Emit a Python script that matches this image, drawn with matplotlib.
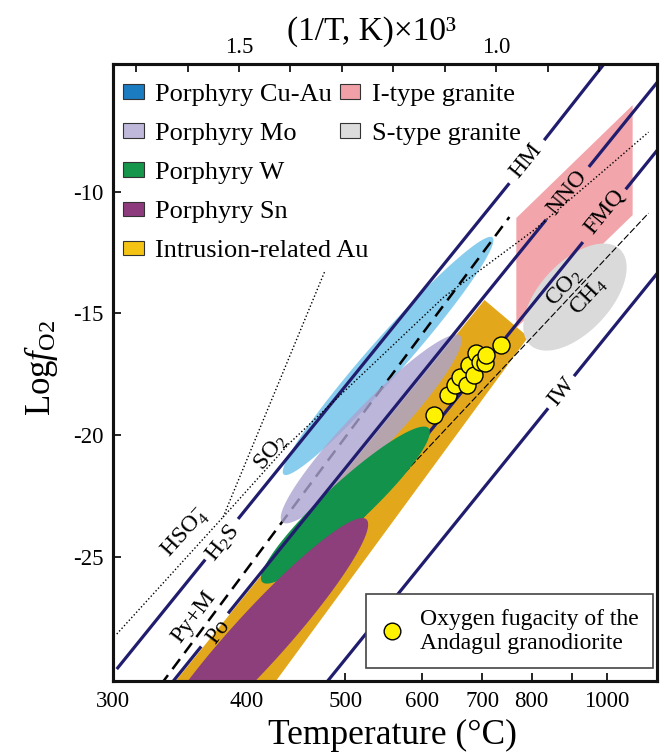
import numpy as np
import matplotlib
matplotlib.use("Agg")
import matplotlib.pyplot as plt
from matplotlib.patches import Patch
from matplotlib.lines import Line2D

plt.rcParams['font.family'] = ['Liberation Serif', 'DejaVu Serif']
plt.rcParams['mathtext.fontset'] = 'custom'
plt.rcParams['mathtext.rm'] = 'Liberation Serif'
plt.rcParams['mathtext.it'] = 'Liberation Serif:italic'
plt.rcParams['mathtext.bf'] = 'Liberation Serif:bold'
plt.rcParams['axes.unicode_minus'] = False

# ---------------- data (Temperature in °C, log fO2) ----------------
# buffer lines, drawn as segments (gaps where labels sit)
HM_segments = [((302.4, -29.62), (365.6, -25.12)),
               ((392.7, -23.45), (752.6, -9.65)),
               ((829.0, -7.88), (1000.0, -4.60))]
NNO_segments = [((337.7, -30.36), (362.4, -28.69)),
                ((384.2, -27.33), (833.7, -11.15)),
                ((945.6, -8.98), (1194.3, -5.34))]
FMQ_segments = [((380.1, -30.37), (928.6, -12.07)),
                ((1062.0, -9.90), (1194.3, -8.13))]
IW_segments = [((474.4, -30.37), (838.5, -18.90)),
               ((904.2, -17.58), (1194.3, -13.19))]
# pyrite+magnetite / pyrrhotite boundary (dashed)
PyM_Po_T = [332.0, 752.6]
PyM_Po_f = [-30.28, -11.04]
# CO2 / CH4 boundary (thin dashed)
CO2_CH4_T = [520.1, 1146.0]
CO2_CH4_f = [-23.41, -10.88]
# sulfur species boundaries (dotted)
HSO4_H2S_T = [302.4, 380.1]
HSO4_H2S_f = [-28.18, -23.37]
HSO4_SO2_T = [380.1, 476.5]
HSO4_SO2_f = [-23.37, -13.30]
H2S_SO2_T = [380.1, 440.3, 634.0, 806.1, 975.0, 1146.0]
H2S_SO2_f = [-23.37, -20.33, -14.33, -11.57, -9.31, -7.55]

# fields
Au_T = [334.1, 704.2, 792.7, 416.6]
Au_f = [-30.73, -14.45, -15.97, -30.73]
Itype_T = [767.0, 1086.5, 1086.5, 767.0]
Itype_f = [-11.08, -6.44, -10.96, -15.60]
# ellipses: centre, end of long axis, end of conjugate axis
CuAu_ell = [(553.0, -16.75), (721.1, -11.99), (553.0, -17.90)]
Mo_ell = [(531.2, -19.75), (663.6, -16.10), (531.2, -21.07)]
W_ell = [(500.0, -22.88), (612.3, -19.88), (500.0, -24.07)]
Sn_ell = [(409.3, -28.43), (520.1, -23.41), (443.3, -28.43)]
Stype_ell = [(906.8, -14.33), (1041.6, -12.36), (981.1, -15.31)]

# Andagul granodiorite oxygen fugacity
sample_T = [618.4, 640.4, 651.8, 660.2, 672.1, 675.5, 684.3, 687.9, 695.1, 704.2, 707.9, 736.6]
sample_f = [-19.18, -18.36, -17.94, -17.62, -17.94, -17.12, -17.53, -16.63, -17.00, -17.04, -16.71, -16.30]

x_ticks = [300, 400, 500, 600, 700, 800, 900, 1000]
x_ticklabels = ['300', '400', '500', '600', '700', '800', '', '1000']
top_ticks = [1.7, 1.6, 1.5, 1.4, 1.3, 1.2, 1.1, 1.0, 0.9, 0.8]
top_ticklabels = ['', '', '1.5', '', '', '', '', '1.0', '', '']
y_ticks = [-25, -20, -15, -10]

legend_labels1 = ['Porphyry Cu-Au', 'Porphyry Mo', 'Porphyry W', 'Porphyry Sn', 'Intrusion-related Au']
legend_colors1 = ['#1b7cc1', '#bfb8db', '#15964b', '#8e3b7d', '#f5c314']
legend_labels2 = ['I-type granite', 'S-type granite']
legend_colors2 = ['#f0a0a6', '#dcdcdc']

NAVY = '#211d6e'


def to_u(T):
    return 1000.0 / (np.asarray(T, float) + 273.15)


def from_u(u):
    return 1000.0 / np.asarray(u, float) - 273.15


def ellipse(spec, n=120):
    (Tc, fc), (Ta, fa), (Tb, fb) = spec
    uc, ua, ub = to_u(Tc), to_u(Ta), to_u(Tb)
    t = np.linspace(0, 2 * np.pi, n)
    uu = uc + np.cos(t) * (ua - uc) + np.sin(t) * (ub - uc)
    ff = fc + np.cos(t) * (fa - fc) + np.sin(t) * (fb - fc)
    return from_u(uu), ff


fig = plt.figure(figsize=(6.65, 7.55), dpi=100)
ax = fig.add_axes([113 / 665, 1 - 681 / 755, 544 / 665, 617 / 755])
ax.set_xscale('function', functions=(lambda T: -1000.0 / (np.asarray(T) + 273.15),
                                     lambda v: -1000.0 / np.asarray(v) - 273.15))
XL = (300.0, 1180.0)
ax.set_xlim(*XL)
ax.set_ylim(-30.11, -4.75)

# fields
ax.fill(Au_T, Au_f, color='#e3a71c', lw=0, zorder=1)
ax.fill(Itype_T, Itype_f, color='#f2a6ac', lw=0, zorder=1)
Ts, fs = ellipse(Stype_ell)
ax.fill(Ts, fs, color='#dadada', lw=0, zorder=1.2)
Ts, fs = ellipse(CuAu_ell)
ax.fill(Ts, fs, color='#88cdee', lw=0, zorder=1.3)

# lines under the ore fields
ax.plot(PyM_Po_T, PyM_Po_f, color='black', lw=1.8, dashes=(5, 3), zorder=2)
for seg in FMQ_segments:
    ax.plot([seg[0][0], seg[1][0]], [seg[0][1], seg[1][1]], color=NAVY, lw=2.3,
            solid_capstyle='butt', zorder=2)
ax.plot(CO2_CH4_T, CO2_CH4_f, color='black', lw=0.8, dashes=(6, 2), zorder=2.1)

Ts, fs = ellipse(Mo_ell)
ax.fill(Ts, fs, color='#aba4d1', alpha=0.8, lw=0, zorder=3)
Ts, fs = ellipse(W_ell)
ax.fill(Ts, fs, color='#12924a', lw=0, zorder=3.1)
Ts, fs = ellipse(Sn_ell)
ax.fill(Ts, fs, color='#8c3f7b', lw=0, zorder=3.2)

for segs in (HM_segments, NNO_segments, IW_segments):
    for seg in segs:
        ax.plot([seg[0][0], seg[1][0]], [seg[0][1], seg[1][1]], color=NAVY, lw=2.3,
                solid_capstyle='butt', zorder=4)

dot = dict(color='black', lw=1.0, linestyle=(0, (1, 1.6)), zorder=4)
ax.plot(HSO4_H2S_T, HSO4_H2S_f, **dot)
ax.plot(HSO4_SO2_T, HSO4_SO2_f, **dot)
ax.plot(H2S_SO2_T, H2S_SO2_f, **dot)

ax.scatter(sample_T, sample_f, s=150, facecolor='#fff200', edgecolor='black',
           linewidth=1.0, zorder=5)

# labels on the diagram
lab = dict(ha='center', va='center', rotation_mode='anchor', fontsize=17, zorder=4.5)
ax.text(788.3, -8.74, 'HM', rotation=51, **lab)
ax.text(885.7, -10.05, 'NNO', rotation=51, **lab)
ax.text(993.3, -10.83, 'FMQ', rotation=51, **lab)
ax.text(870.4, -18.23, 'IW', rotation=51, **lab)
ax.text(878.0, -13.96, r'CO$_2$', rotation=47, **lab)
ax.text(945.6, -14.33, r'CH$_4$', rotation=47, **lab)
ax.text(422.2, -20.70, r'SO$_2$', rotation=51, **lab)
ax.text(380.1, -24.44, r'H$_2$S', rotation=51, **lab)
ax.text(350.2, -24.03, r'HSO$_4^{-}$', rotation=48, **lab)
ax.text(356.3, -27.48, 'Py+M', rotation=53, **lab)
ax.text(376.0, -28.10, 'Po', rotation=53, **lab)

# axes styling
ax.set_xticks(x_ticks)
ax.set_xticklabels(x_ticklabels)
ax.set_yticks(y_ticks)
ax.set_yticklabels([str(v) for v in y_ticks])
ax.xaxis.set_ticks_position('bottom')
ax.yaxis.set_ticks_position('left')
ax.tick_params(direction='in', length=6, width=1.2, labelsize=16.5, pad=7)
ax.xaxis.set_minor_locator(matplotlib.ticker.NullLocator())

ax2 = ax.twiny()
ax2.set_xlim(to_u(XL[0]), to_u(XL[1]))
ax2.set_xticks(top_ticks)
ax2.set_xticklabels(top_ticklabels)
ax2.tick_params(direction='in', length=6, width=1.2, labelsize=16.5, pad=4)
ax2.xaxis.set_minor_locator(matplotlib.ticker.NullLocator())

for a in (ax, ax2):
    for sp in a.spines.values():
        sp.set_linewidth(2.2)
        sp.set_color('#111111')

ax.set_xlabel('Temperature (°C)', fontsize=25.5)
ax.xaxis.set_label_coords(0.513, -0.061)
ax.set_ylabel(r'Log$\mathit{f}_{\mathrm{O2}}$', fontsize=25)
ax.yaxis.set_label_coords(-0.097, 0.507)
ax2.set_xlabel('(1/T, K)×10³', fontsize=24)
ax2.xaxis.set_label_coords(0.476, 1.039)

# legends
h1 = [Patch(facecolor=c, edgecolor='#333333', lw=0.8) for c in legend_colors1]
leg1 = ax.legend(h1, legend_labels1, loc='upper left', bbox_to_anchor=(0.0184, 0.968),
                 frameon=False, fontsize=19, borderpad=0, borderaxespad=0,
                 handlelength=0.78, handleheight=0.46, handletextpad=0.45, labelspacing=0.65)
ax.add_artist(leg1)
h2 = [Patch(facecolor=c, edgecolor='#333333', lw=0.8) for c in legend_colors2]
leg2 = ax.legend(h2, legend_labels2, loc='upper left', bbox_to_anchor=(0.417, 0.968),
                 frameon=False, fontsize=19, borderpad=0, borderaxespad=0,
                 handlelength=0.78, handleheight=0.46, handletextpad=0.45, labelspacing=0.65)
ax.add_artist(leg2)
h3 = [Line2D([], [], marker='o', ms=12, mfc='#fff200', mec='black', mew=1.0, lw=0)]
leg3 = ax.legend(h3, ['Oxygen fugacity of the\nAndagul granodiorite'], loc='lower right',
                 bbox_to_anchor=(0.9926, 0.0211), frameon=True, fancybox=False, framealpha=1,
                 edgecolor='#444444', fontsize=17, borderpad=0.6, borderaxespad=0,
                 handlelength=1.0, handletextpad=0.7)
leg3.get_frame().set_linewidth(1.2)
leg3.set_zorder(6)

fig.savefig('out.png', dpi=100, facecolor='white')
